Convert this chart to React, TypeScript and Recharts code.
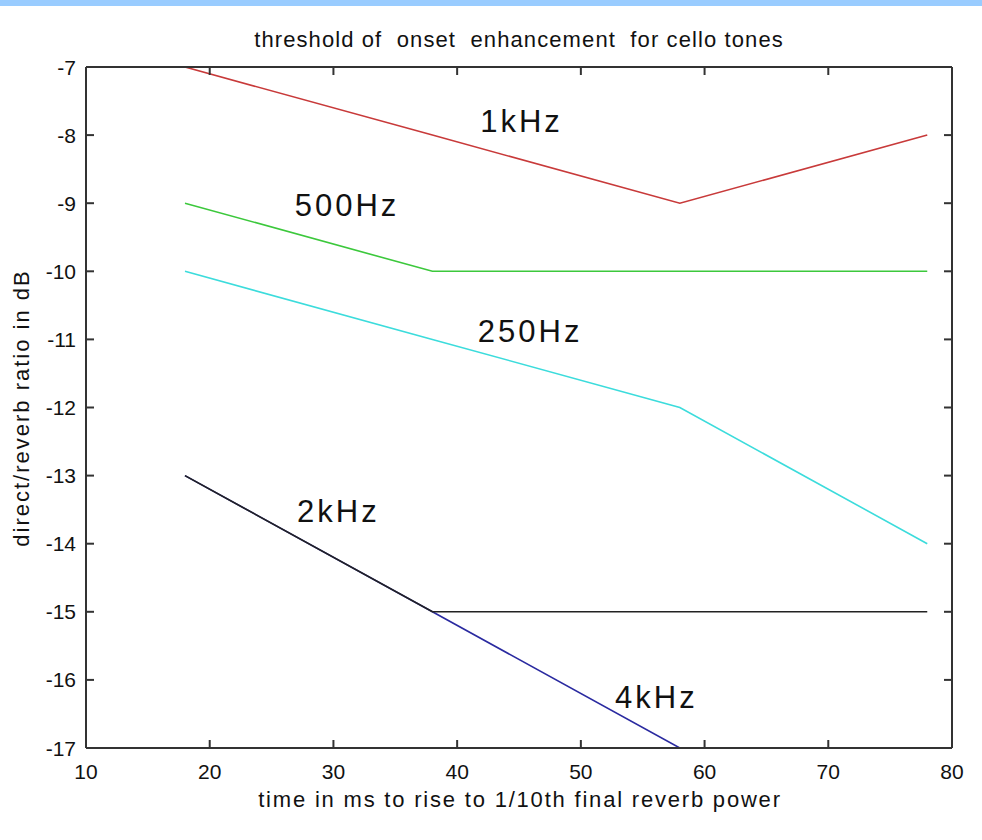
import React from 'react';
import { LineChart, Line, XAxis, YAxis, ReferenceDot } from 'recharts';

const timesMs = [18, 38, 58, 78];
const series1k = [-7, -8, -9, -8];
const series500 = [-9, -10, -10, -10];
const series250 = [-10, -11, -12, -14];
const series2k = [-13, -15, -15, -15];
const times4k = [18, 38, 58];
const series4k = [-13, -15, -17];

const xTicks = [10, 20, 30, 40, 50, 60, 70, 80];
const yTicks = [-17, -16, -15, -14, -13, -12, -11, -10, -9, -8, -7];

const labelNames = ['1kHz', '500Hz', '250Hz', '2kHz', '4kHz'];
const labelX = [45.2, 31.1, 45.9, 30.4, 56.1];
const labelY = [-7.8, -9.03, -10.88, -13.52, -16.25];

const title = 'threshold of  onset  enhancement  for cello tones';
const xTitle = 'time in ms to rise to 1/10th final reverb power';
const yTitle = 'direct/reverb ratio in dB';

const build = (xs: number[], ys: number[]) => xs.map((x, i) => ({ x, y: ys[i] }));

const FONT = '"Liberation Sans", Arial, Helvetica, sans-serif';
const AXIS = '#333333';
const TICK_LEN = 8;
const X_MARGIN = 16;
const Y_MARGIN = 10;

const BottomTick = (props: any) => {
  const { x, y, payload } = props;
  const axisY = y - X_MARGIN;
  return (
    <g>
      <line x1={x} x2={x} y1={axisY} y2={axisY - TICK_LEN} stroke={AXIS} strokeWidth={2} />
      <text x={x} y={y + 15} textAnchor="middle" fontSize={21} fill="#111" fontFamily={FONT}>{payload.value}</text>
    </g>
  );
};

const LeftTick = (props: any) => {
  const { x, y, payload } = props;
  const axisX = x + Y_MARGIN;
  return (
    <g>
      <line x1={axisX} x2={axisX + TICK_LEN} y1={y} y2={y} stroke={AXIS} strokeWidth={2} />
      <text x={x} y={y + 7.5} textAnchor="end" fontSize={21} fill="#111" fontFamily={FONT}>{payload.value}</text>
    </g>
  );
};

const TopTick = (props: any) => {
  const { x, y } = props;
  return <line x1={x} x2={x} y1={y} y2={y + TICK_LEN} stroke={AXIS} strokeWidth={2} />;
};

const RightTick = (props: any) => {
  const { x, y } = props;
  return <line x1={x} x2={x - TICK_LEN} y1={y} y2={y} stroke={AXIS} strokeWidth={2} />;
};

export default function App() {
  const frame = { stroke: AXIS, strokeWidth: 2 };
  return (
    <div style={{ position: 'absolute', left: 0, top: 0, width: 982, height: 840, background: '#fff', fontFamily: FONT }}>
      <div style={{ position: 'absolute', left: 0, top: 0, width: 982, height: 6, background: '#99ccff' }} />
      <LineChart width={982} height={840} margin={{ top: 67, right: 30, bottom: 52, left: 26 }}>
        <XAxis xAxisId="b" orientation="bottom" type="number" dataKey="x" domain={[10, 80]} ticks={xTicks} interval={0} allowDataOverflow height={40} axisLine={frame} tickLine={false} tickSize={0} tickMargin={X_MARGIN} tick={<BottomTick />} />
        <XAxis xAxisId="t" orientation="top" mirror type="number" dataKey="x" domain={[10, 80]} ticks={xTicks} interval={0} allowDataOverflow height={2} axisLine={frame} tickLine={false} tickSize={0} tickMargin={0} tick={<TopTick />} />
        <YAxis yAxisId="l" orientation="left" type="number" domain={[-17, -7]} ticks={yTicks} interval={0} allowDataOverflow width={60} axisLine={frame} tickLine={false} tickSize={0} tickMargin={Y_MARGIN} tick={<LeftTick />} />
        <YAxis yAxisId="r" orientation="right" mirror type="number" domain={[-17, -7]} ticks={yTicks} interval={0} allowDataOverflow width={2} axisLine={frame} tickLine={false} tickSize={0} tickMargin={0} tick={<RightTick />} />
        <Line xAxisId="t" yAxisId="r" data={build(timesMs, series1k)} dataKey="y" stroke="#c83a3a" strokeWidth={1.6} dot={false} isAnimationActive={false} />
        <Line xAxisId="t" yAxisId="l" data={build(timesMs, series500)} dataKey="y" stroke="#3cc83c" strokeWidth={1.6} dot={false} isAnimationActive={false} />
        <Line xAxisId="b" yAxisId="r" data={build(timesMs, series250)} dataKey="y" stroke="#3cdcdc" strokeWidth={1.6} dot={false} isAnimationActive={false} />
        <Line xAxisId="b" yAxisId="l" data={build(times4k, series4k)} dataKey="y" stroke="#2a2aa0" strokeWidth={1.6} dot={false} isAnimationActive={false} />
        <Line xAxisId="b" yAxisId="l" data={build(timesMs, series2k)} dataKey="y" stroke="#222222" strokeWidth={1.6} dot={false} isAnimationActive={false} />
        {labelNames.map((name, i) => (
          <ReferenceDot
            key={name}
            xAxisId="b"
            yAxisId="l"
            x={labelX[i]}
            y={labelY[i]}
            r={1}
            fillOpacity={0}
            strokeOpacity={0}
            label={{ value: name, position: 'center', fontSize: 31, fill: '#111', fontFamily: FONT, letterSpacing: 3 }}
          />
        ))}
      </LineChart>
      <svg width={982} height={840} style={{ position: 'absolute', left: 0, top: 0, pointerEvents: 'none' }}>
        <text x={519} y={47} textAnchor="middle" fontSize={22} fill="#111" fontFamily={FONT} letterSpacing={1.1} style={{ whiteSpace: 'pre' }}>
          {title}
        </text>
        <text x={520} y={807} textAnchor="middle" fontSize={22} fill="#111" fontFamily={FONT} letterSpacing={1.8}>
          {xTitle}
        </text>
        <text x={0} y={0} transform="translate(29,408) rotate(-90)" textAnchor="middle" fontSize={22} fill="#111" fontFamily={FONT} letterSpacing={2}>
          {yTitle}
        </text>
      </svg>
    </div>
  );
}
